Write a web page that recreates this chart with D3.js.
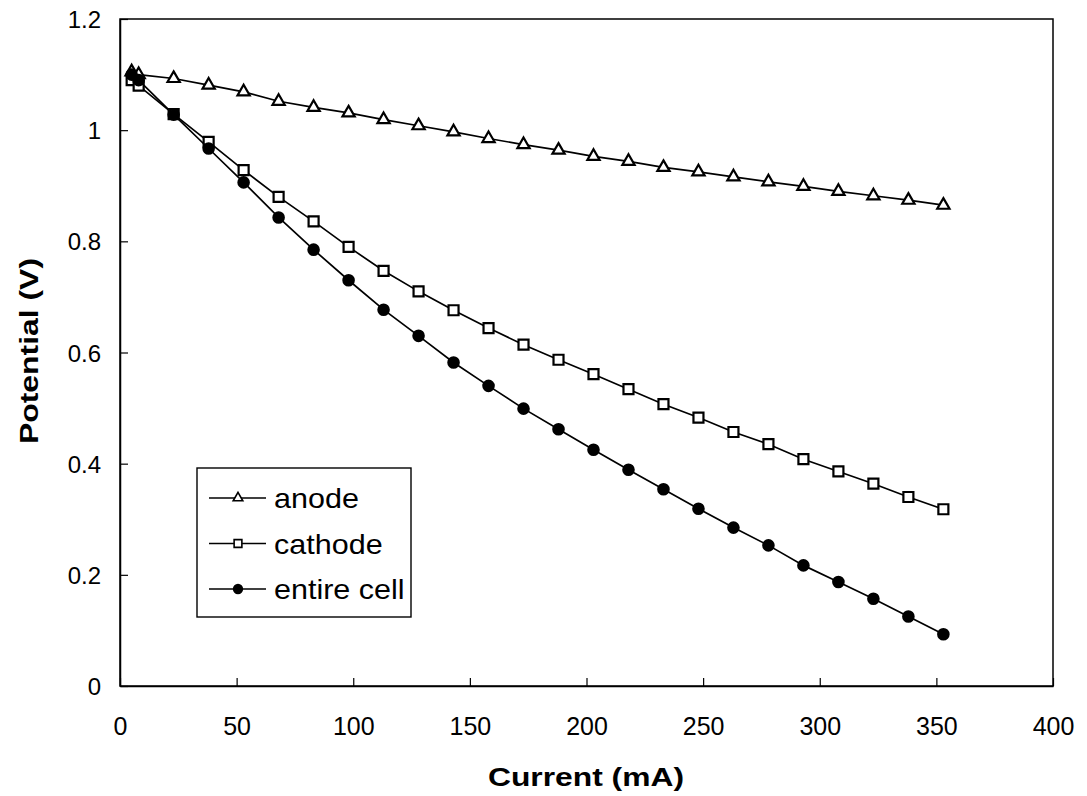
<!DOCTYPE html>
<html>
<head>
<meta charset="utf-8">
<script src="https://cdn.jsdelivr.net/npm/d3@7"></script>
<style>
  body { margin: 0; background: #fff; }
  text { font-family: "Liberation Sans", Arial, sans-serif; fill: #000; }
</style>
</head>
<body>
<svg></svg>
<script>
var svgWidth = 1087;
var svgHeight = 796;

// data
var current = [5, 8, 23, 38, 53, 68, 83, 98, 113, 128, 143, 158, 173, 188, 203, 218, 233, 248, 263, 278, 293, 308, 323, 338, 353];
var anode = [1.105, 1.10, 1.093, 1.081, 1.069, 1.052, 1.041, 1.031, 1.019, 1.008, 0.997, 0.985, 0.974, 0.964, 0.953, 0.944, 0.933, 0.925, 0.916, 0.907, 0.899, 0.890, 0.882, 0.874, 0.865];
var cathode = [1.09, 1.08, 1.029, 0.979, 0.928, 0.880, 0.836, 0.790, 0.747, 0.710, 0.676, 0.644, 0.614, 0.587, 0.561, 0.534, 0.507, 0.483, 0.457, 0.435, 0.408, 0.386, 0.364, 0.340, 0.318];
var entireCell = [1.10, 1.09, 1.028, 0.967, 0.906, 0.843, 0.785, 0.730, 0.677, 0.630, 0.582, 0.540, 0.499, 0.462, 0.425, 0.389, 0.354, 0.319, 0.285, 0.253, 0.217, 0.187, 0.157, 0.125, 0.093];
var seriesNames = ["anode", "cathode", "entire cell"];
var xTicks = [0, 50, 100, 150, 200, 250, 300, 350, 400];
var yTicks = [0, 0.2, 0.4, 0.6, 0.8, 1, 1.2];

var plotLeft = 120, plotRight = 1053, plotTop = 19, plotBottom = 686;

var svg = d3.select('svg')
    .attr("width", svgWidth)
    .attr("height", svgHeight);

var x = d3.scaleLinear().domain([0, 400]).range([plotLeft, plotRight]);
var y = d3.scaleLinear().domain([0, 1.2]).range([plotBottom, plotTop]);

// plot frame
svg.append("rect")
    .attr("x", plotLeft).attr("y", plotTop)
    .attr("width", plotRight - plotLeft).attr("height", plotBottom - plotTop)
    .attr("fill", "none").attr("stroke", "#000").attr("stroke-width", 1.5);

var xAxis = svg.append("g")
    .attr("transform", "translate(0," + plotBottom + ")")
    .call(d3.axisBottom(x).tickValues(xTicks).tickSizeInner(-8).tickSizeOuter(0).tickPadding(49).tickFormat(d3.format("d")));
var yAxis = svg.append("g")
    .attr("transform", "translate(" + plotLeft + ",0)")
    .call(d3.axisLeft(y).tickValues(yTicks).tickSizeInner(-8).tickSizeOuter(0).tickPadding(19).tickFormat(function(d) { return String(+d.toFixed(1)); }));

[xAxis, yAxis].forEach(function(g) {
    g.select(".domain").attr("stroke", "#000").attr("stroke-width", 1.5);
    g.selectAll(".tick line").attr("stroke", "#000").attr("stroke-width", 1.2);
    g.selectAll(".tick text").attr("fill", "#111")
        .style("font-family", "Liberation Sans, Arial, sans-serif");
});
xAxis.selectAll(".tick text").attr("dy", "0em").attr("font-size", 25);
yAxis.selectAll(".tick text").attr("dy", "0.36em").attr("font-size", 24);

// axis titles
svg.append("text")
    .attr("x", 586).attr("y", 786)
    .attr("text-anchor", "middle")
    .attr("font-size", 26).attr("font-weight", "bold")
    .attr("textLength", 196).attr("lengthAdjust", "spacingAndGlyphs")
    .text("Current (mA)");
svg.append("text")
    .attr("transform", "translate(38,351) rotate(-90)")
    .attr("text-anchor", "middle")
    .attr("font-size", 26).attr("font-weight", "bold")
    .attr("textLength", 186).attr("lengthAdjust", "spacingAndGlyphs")
    .text("Potential (V)");

var line = d3.line()
    .x(function(d) { return x(d[0]); })
    .y(function(d) { return y(d[1]); });

var triangle = d3.symbol().type(d3.symbolTriangle).size(65);
var square = d3.symbol().type(d3.symbolSquare).size(100);
var circle = d3.symbol().type(d3.symbolCircle).size(85);

var series = [
    { name: seriesNames[0], values: anode, sym: triangle, fill: "#fff" },
    { name: seriesNames[1], values: cathode, sym: square, fill: "#fff" },
    { name: seriesNames[2], values: entireCell, sym: circle, fill: "#000" }
];

series.forEach(function(s) {
    var pts = current.map(function(c, i) { return [c, s.values[i]]; });
    svg.append("path")
        .datum(pts)
        .attr("d", line)
        .attr("fill", "none")
        .attr("stroke", "#000")
        .attr("stroke-width", 1.7);
    svg.append("g").selectAll("path")
        .data(pts)
        .enter()
        .append("path")
        .attr("d", s.sym)
        .attr("transform", function(d) { return "translate(" + x(d[0]) + "," + y(d[1]) + ")"; })
        .attr("fill", s.fill)
        .attr("stroke", "#000")
        .attr("stroke-width", 2.2);
});

// legend
var legend = svg.append("g").attr("transform", "translate(197,468)");
legend.append("rect")
    .attr("width", 214).attr("height", 149)
    .attr("fill", "#fff").attr("stroke", "#000").attr("stroke-width", 1.4);
var legSyms = [
    d3.symbol().type(d3.symbolTriangle).size(40),
    d3.symbol().type(d3.symbolSquare).size(60),
    d3.symbol().type(d3.symbolCircle).size(60)
];
series.forEach(function(s, i) {
    var row = legend.append("g").attr("transform", "translate(0," + (30 + i * 45.5) + ")");
    row.append("line").attr("x1", 12).attr("x2", 69).attr("y1", 0).attr("y2", 0)
        .attr("stroke", "#000").attr("stroke-width", 1.6);
    row.append("path").attr("d", legSyms[i]).attr("transform", "translate(41,0)")
        .attr("fill", s.fill).attr("stroke", "#000").attr("stroke-width", 1.6);
    var t = row.append("text").attr("x", 77).attr("y", 0).attr("dy", "0.36em")
        .attr("font-size", 28).text(s.name);
    // reference text is a bit wider than Liberation Sans at this height
    t.attr("textLength", t.node().getComputedTextLength() * 1.09).attr("lengthAdjust", "spacingAndGlyphs");
});
</script>
</body>
</html>
